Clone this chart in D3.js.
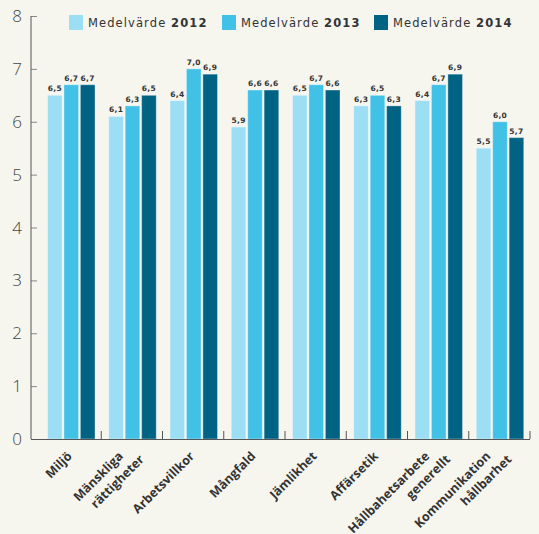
<!DOCTYPE html>
<html><head><meta charset="utf-8">
<script src="https://cdn.jsdelivr.net/npm/d3@7"></script>
<style>
html,body{margin:0;padding:0;background:#f6f5ee;}
svg{display:block;}
</style></head>
<body>
<script>
const categories = [["Miljö"],["Mänskliga","rättigheter"],["Arbetsvillkor"],["Mångfald"],["Jämlikhet"],["Affärsetik"],["Hållbahetsarbete","generellt"],["Kommunikation","hållbarhet"]];
const years = ["2012","2013","2014"];
const values2012 = [6.5,6.1,6.4,5.9,6.5,6.3,6.4,5.5];
const values2013 = [6.7,6.3,7.0,6.6,6.7,6.5,6.7,6.0];
const values2014 = [6.7,6.5,6.9,6.6,6.6,6.3,6.9,5.7];
const yTicks = [0,1,2,3,4,5,6,7,8];
const colors = ["#9cdef4","#42c1e7","#006384"];

const W=539,H=534;
const svg=d3.select("body").append("svg").attr("width",W).attr("height",H);
svg.append("rect").attr("width",W).attr("height",H).attr("fill","#f6f5ee");

const series=[values2012,values2013,values2014];
const catKeys=categories.map(c=>c.join(" "));
const x=d3.scaleBand().domain(catKeys).range([40,530]).padding(0);
const xi=d3.scaleBand().domain(years).range([7.5,55]).paddingInner(0.11);
const y=d3.scaleLinear().domain([0,8]).range([439,16]);
const axisX=31;

// y axis
const ya=svg.append("g").attr("transform",`translate(${axisX},0)`)
  .call(d3.axisRight(y).tickValues(yTicks).tickSize(6).tickFormat(""));
ya.select(".domain").remove();
ya.selectAll(".tick line").attr("stroke","#888");
svg.append("line").attr("x1",axisX).attr("x2",axisX).attr("y1",y(8)).attr("y2",y(0)).attr("stroke","#555").attr("stroke-width",1);
svg.selectAll("text.ytl").data(yTicks).enter().append("text").attr("class","ytl")
  .attr("x",22).attr("y",d=>y(d)+6).attr("text-anchor","end")
  .attr("font-family","Open Sans, sans-serif").attr("font-size",17).attr("font-weight",300)
  .attr("fill","#444").text(d=>d);

// bars
catKeys.forEach((c,i)=>{
  const g=svg.append("g").attr("transform",`translate(${x(c)},0)`);
  years.forEach((yr,j)=>{
    const v=series[j][i];
    g.append("rect").attr("x",xi(yr)).attr("width",xi.bandwidth())
      .attr("y",y(v)).attr("height",y(0)-y(v)).attr("fill",colors[j])
      .attr("stroke","rgba(255,255,255,0.35)").attr("stroke-width",1);
    g.append("text").attr("x",xi(yr)+xi.bandwidth()/2).attr("y",y(v)-4)
      .attr("text-anchor","middle").attr("font-family","DejaVu Sans, sans-serif")
      .attr("font-size",7.5).attr("font-weight","bold").attr("letter-spacing",0.3)
      .attr("fill","#333").text(d3.format(".1f")(v).replace(".",","));
  });
});

// x axis baseline + ticks
svg.append("line").attr("x1",axisX).attr("x2",530).attr("y1",y(0)+0.5).attr("y2",y(0)+0.5).attr("stroke","#555");
catKeys.forEach(c=>{
  const xx=x(c)+x.bandwidth();
  svg.append("line").attr("x1",xx).attr("x2",xx).attr("y1",y(0)).attr("y2",y(0)-8).attr("stroke","#555");
});

// x labels
categories.forEach((lines,i)=>{
  const cx=x(catKeys[i])+x.bandwidth()/2;
  const two=lines.length>1;
  const g=svg.append("g").attr("transform",`translate(${cx+(two?-8:2)},${457}) rotate(-45)`);
  lines.forEach((t,k)=>{
    g.append("text").attr("x",k*12.5).attr("y",k*17).attr("text-anchor","end")
      .attr("font-family","Open Sans, sans-serif").attr("font-size",12.5).attr("font-weight","bold")
      .attr("fill","#333").text(t);
  });
});

// legend
const lx=[69,222,374];
years.forEach((yr,j)=>{
  svg.append("rect").attr("x",lx[j]).attr("y",15).attr("width",14).attr("height",15).attr("fill",colors[j]);
  const t=svg.append("text").attr("x",lx[j]+19).attr("y",27)
    .attr("font-family","DejaVu Sans, sans-serif").attr("font-size",11.5).attr("fill","#333")
    .attr("letter-spacing",1.1);
  t.append("tspan").text("Medelvärde ");
  t.append("tspan").attr("font-weight","bold").text(yr);
});
</script>
</body></html>
